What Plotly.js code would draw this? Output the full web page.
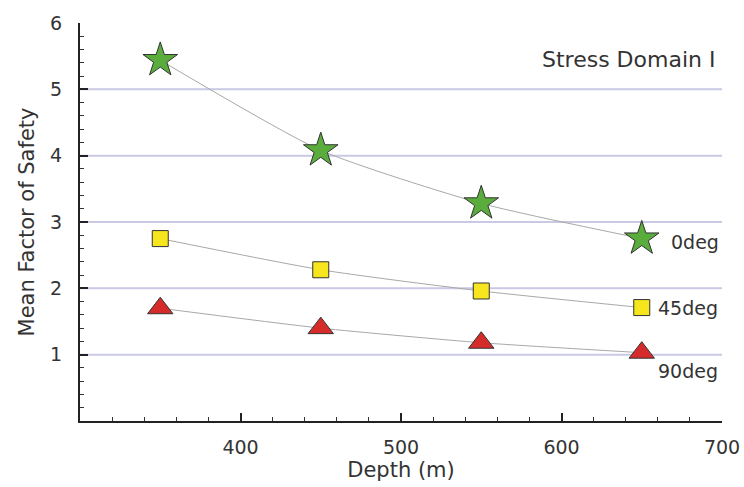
<!DOCTYPE html>
<html><head><meta charset="utf-8">
<script src="https://cdn.plot.ly/plotly-3.0.1.min.js"></script>
<style>html,body{margin:0;padding:0;background:#fff}#chart{width:744px;height:487px}</style>
</head><body><div id="chart"></div>
<script>
const depth = [350, 450, 550, 650];
const fos0 = [5.44, 4.08, 3.28, 2.75];
const fos45 = [2.75, 2.28, 1.96, 1.71];
const fos90 = [1.70, 1.40, 1.18, 1.03];
const seriesNames = ['0deg', '45deg', '90deg'];

function tr(y, sym, size, color) {
  return {x: depth, y: y, type: 'scatter', mode: 'lines+markers',
    line: {color: '#a8a8a8', width: 1, shape: 'spline', smoothing: 0.6},
    marker: {symbol: sym, size: size, color: color, line: {color: '#333', width: 1}},
    showlegend: false, cliponaxis: false};
}
const data = [
  tr(fos0, 'star', 26, '#5aad3c'),
  tr(fos45, 'square', 16, '#f7e51d'),
  tr(fos90, 'triangle-up', 22, '#d52b2b')
];
const fam = 'DejaVu Sans, Liberation Sans, sans-serif';
const layout = {
  width: 744, height: 487,
  margin: {l: 80, r: 22, t: 23, b: 66},
  paper_bgcolor: '#fff', plot_bgcolor: '#fff',
  font: {family: fam, size: 20, color: '#333'},
  xaxis: {range: [300, 700], tickvals: [400, 500, 600, 700], ticks: 'inside', ticklen: 8, tickwidth: 2,
    tickcolor: '#222', showline: true, linecolor: '#222', linewidth: 2, showgrid: false, zeroline: false,
    minor: {dtick: 20, ticks: 'inside', ticklen: 4, tickwidth: 1, tickcolor: '#333', showgrid: false},
    tickfont: {family: fam, size: 19, color: '#333'}, ticklabelstandoff: 8,
    title: {text: 'Depth (m)', font: {family: fam, size: 21, color: '#333'}, standoff: 4}},
  yaxis: {range: [0, 6], tickvals: [1, 2, 3, 4, 5, 6], ticks: 'inside', ticklen: 8, tickwidth: 2,
    tickcolor: '#222', showline: true, linecolor: '#222', linewidth: 2, showgrid: false, zeroline: false,
    minor: {dtick: 0.2, ticks: 'inside', ticklen: 4, tickwidth: 1, tickcolor: '#333', showgrid: false},
    tickfont: {family: fam, size: 19, color: '#333'}, ticklabelstandoff: 12,
    title: {text: 'Mean Factor of Safety', font: {family: fam, size: 21, color: '#333'}, standoff: 10}},
  shapes: [1, 2, 3, 4, 5].map(v => ({type: 'line', xref: 'paper', x0: 0, x1: 1, yref: 'y', y0: v, y1: v,
    line: {color: '#c9c9e3', width: 2}, layer: 'below'})),
  annotations: [
    {text: 'Stress Domain I', xref: 'paper', x: 0.992, xanchor: 'right', yref: 'y', y: 5.45, yanchor: 'middle', showarrow: false, font: {family: fam, size: 22, color: '#333'}},
    {text: seriesNames[0], xref: 'x', x: 667, xanchor: 'left', yref: 'y', y: 2.7, yanchor: 'middle', showarrow: false, font: {family: fam, size: 19, color: '#333'}},
    {text: seriesNames[1], xref: 'x', x: 659, xanchor: 'left', yref: 'y', y: 1.71, yanchor: 'middle', showarrow: false, font: {family: fam, size: 19, color: '#333'}},
    {text: seriesNames[2], xref: 'x', x: 659, xanchor: 'left', yref: 'y', y: 0.75, yanchor: 'middle', showarrow: false, font: {family: fam, size: 19, color: '#333'}}
  ]
};
Plotly.newPlot('chart', data, layout, {displayModeBar: false, staticPlot: true});
</script></body></html>
